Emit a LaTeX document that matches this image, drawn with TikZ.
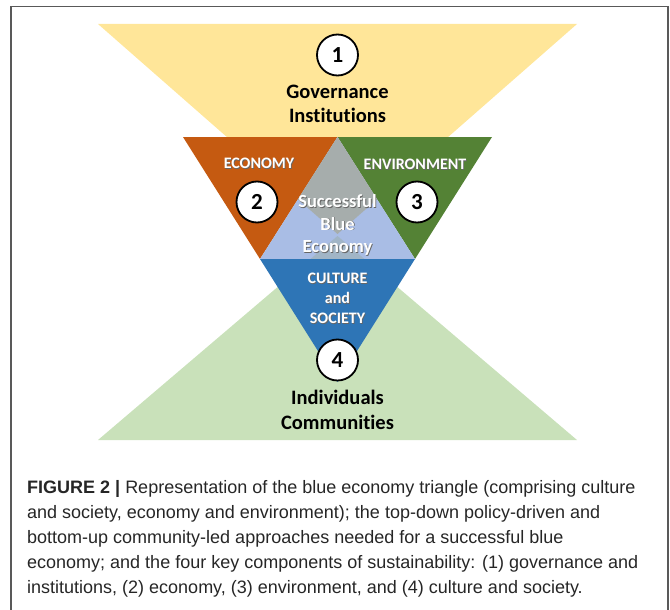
\documentclass[tikz,border=0pt]{standalone}
\usepackage{fontspec}
\setmainfont{Carlito}[Ligatures=NoCommon]
\newfontfamily\capfont{Liberation Sans}
\definecolor{yel}{HTML}{FFE699}
\definecolor{lgreen}{HTML}{C9E1BA}
\definecolor{orng}{HTML}{C55A11}
\definecolor{grn}{HTML}{548235}
\definecolor{lblue}{HTML}{A9BDE5}
\definecolor{blu}{HTML}{2E75B6}
\definecolor{gry}{HTML}{A6ADAC}
\definecolor{gryb}{HTML}{A1B5C6}
\newcommand\shtext[1]{\leavevmode\rlap{\kern0.8pt\raisebox{-0.8pt}{\textcolor{black!60}{#1}}}#1}
\tikzset{
  numcirc/.style={circle, draw=black, line width=1.8pt, fill=white, minimum size=41pt, inner sep=0pt, font=\bfseries\fontsize{23}{23}\selectfont},
  bigtxt/.style={align=center, font=\bfseries\fontsize{20.5}{24.5}\selectfont, text=black},
  captxt/.style={text=white, font=\bfseries\fontsize{16}{20}\selectfont, inner sep=0pt},
  midtxt/.style={text=white, align=center, font=\bfseries\fontsize{18.5}{22.5}\selectfont, inner sep=0pt},
  capline/.style={anchor=base west, inner sep=0pt, text=black!85, font=\capfont\fontsize{18}{25}\selectfont},
  framel/.style={line width=1.3pt, draw=black!65}
}
\begin{document}
\begin{tikzpicture}[x=1pt,y=-1pt]
\useasboundingbox (0,0) rectangle (670,610);
% frame
\draw[framel] (11,615) -- (11,6.5) -- (668,6.5) -- (668,615);
% outer triangles
\fill[yel] (98,24) -- (577,24) -- (337.5,234) -- cycle;
\fill[lgreen] (98,440) -- (577,440) -- (337.5,236) -- cycle;
% economy / environment
\fill[orng] (183,137) -- (337.5,137) -- (260,259) -- cycle;
\fill[grn] (337.5,137) -- (492,137) -- (415,259) -- cycle;
% middle
\fill[lblue] (337.5,137) -- (260,259) -- (415,259) -- cycle;
\begin{scope}
  \clip (337.5,137) -- (260,259) -- (415,259) -- cycle;
  \fill[gry] (98,24) -- (577,24) -- (337.5,234) -- cycle;
  \fill[gryb] (98,440) -- (577,440) -- (337.5,236) -- cycle;
\end{scope}
% culture and society
\fill[blu] (260,259) -- (415,259) -- (337.5,382) -- cycle;
% texts
\node[numcirc] (c1) at (337.5,55) {1};
\node[bigtxt] (gov) at (337.5,104) {Governance\\Institutions};
\node[captxt] (eco) at (259,164) {\shtext{ECONOMY}};
\node[captxt] (env) at (415,165) {\shtext{ENVIRONMENT}};
\node[numcirc] (c2) at (257,202) {2};
\node[numcirc] (c3) at (417,202) {3};
\node[midtxt] (sbe) at (337.5,225.5) {\shtext{Successful}\\\shtext{Blue}\\\shtext{Economy}};
\node[captxt, align=center, font=\bfseries\fontsize{16}{20}\selectfont] (cs) at (337.5,299) {\shtext{CULTURE}\\\shtext{and}\\\shtext{SOCIETY}};
\node[numcirc] (c4) at (337.5,360) {4};
\node[bigtxt] (ind) at (337.5,410) {Individuals\\Communities};
% caption
\node[capline] (l1) at (27,493) {\textbf{FIGURE 2 |} Representation of the blue economy triangle (comprising culture};
\node[capline] (l2) at (27,518) {and society, economy and environment); the top-down policy-driven and};
\node[capline] (l3) at (27,543) {bottom-up community-led approaches needed for a successful blue};
\node[capline] (l4) at (27,568) {economy; and the four key components of sustainability: (1) governance and};
\node[capline] (l5) at (27,593) {institutions, (2) economy, (3) environment, and (4) culture and society.};
\end{tikzpicture}
\end{document}
